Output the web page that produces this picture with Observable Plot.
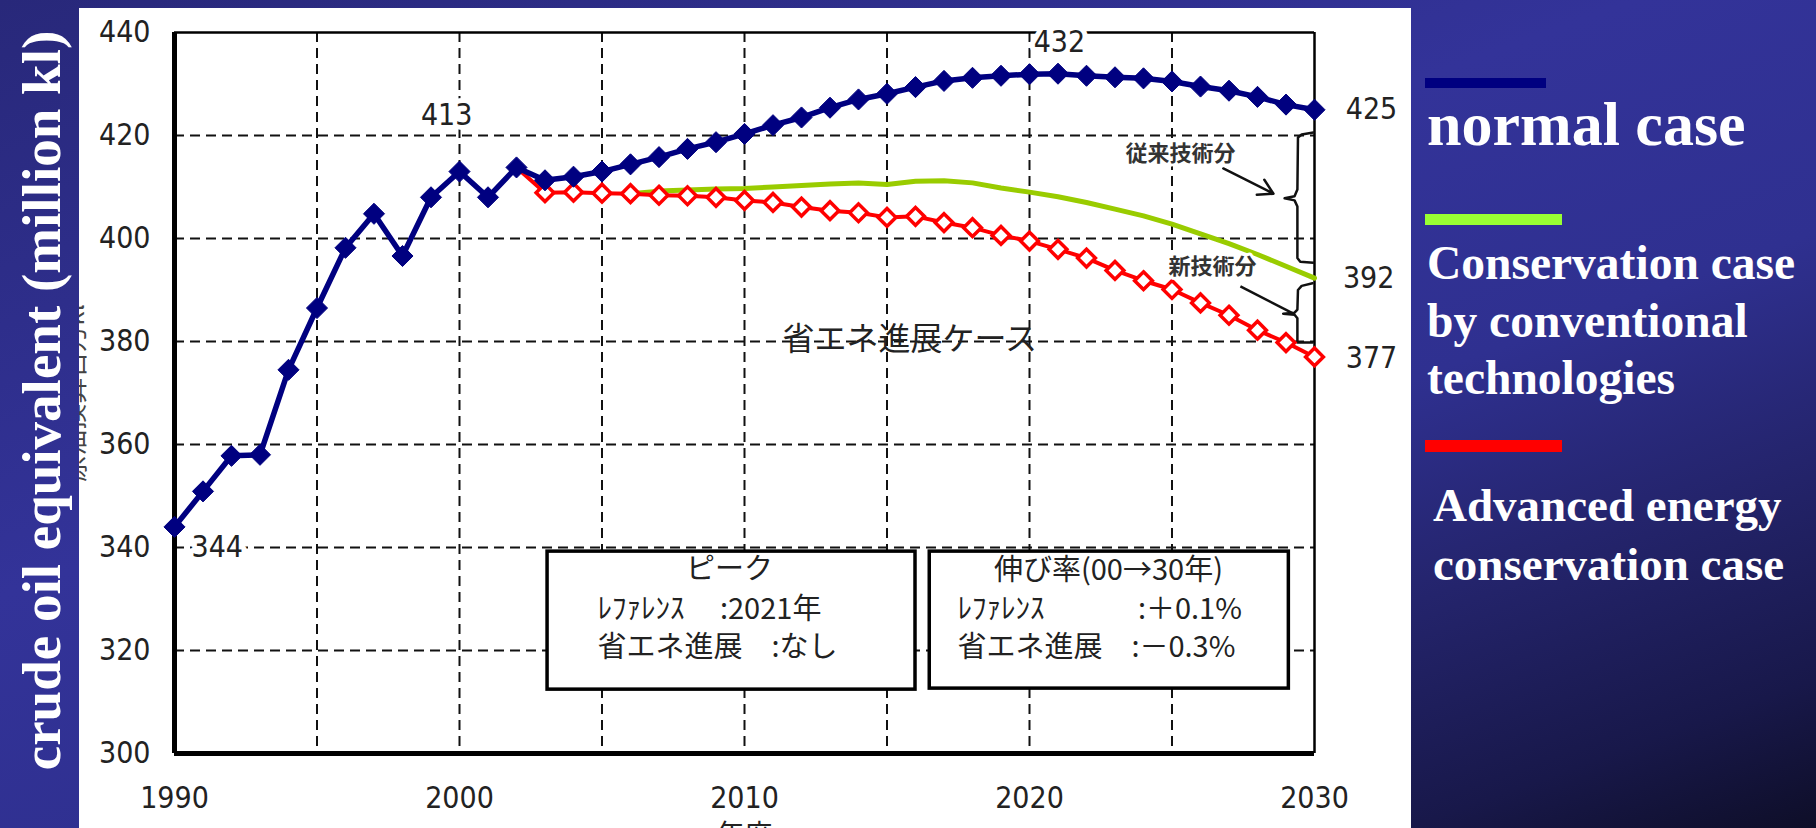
<!DOCTYPE html>
<html><head><meta charset="utf-8">
<script src="https://cdn.jsdelivr.net/npm/d3@7"></script>
<script src="https://cdn.jsdelivr.net/npm/@observablehq/plot@0.6"></script>
<style>
html,body{margin:0;padding:0;}
body{width:1816px;height:828px;overflow:hidden;position:relative;
  background:linear-gradient(160deg,#28287a 0%,#333399 40%,#2f3090 60%,#24246c 75%,#18184a 90%,#0e0e28 100%);}
#chart{position:absolute;left:79px;top:8px;width:1332px;height:820px;overflow:hidden;background:white;}
.serif{font-family:"Liberation Serif","Times New Roman",serif;font-weight:bold;color:white;position:absolute;white-space:nowrap;}
.bar{position:absolute;}
</style></head><body>
<div id="chart"></div>
<div class="serif" style="left:-334px;top:373px;width:750px;height:55px;font-size:55px;line-height:55px;text-align:center;transform:rotate(-90deg);">crude oil equivalent (million kl)</div>
<div class="bar" style="left:1425px;top:78px;width:121px;height:10px;background:#000080"></div>
<div class="serif" style="left:1427px;top:93px;font-size:62px;line-height:62px;">normal case</div>
<div class="bar" style="left:1425px;top:214px;width:137px;height:11px;background:#99ff33"></div>
<div class="serif" style="left:1427px;top:235px;font-size:47.5px;line-height:57.5px;">Conservation case<br>by conventional<br>technologies</div>
<div class="bar" style="left:1425px;top:440px;width:137px;height:12px;background:#ff0000"></div>
<div class="serif" style="left:1433px;top:476px;font-size:47px;line-height:59px;">Advanced energy<br>conservation case</div>
<script>
// ---- data ----
const years = [1990,1991,1992,1993,1994,1995,1996,1997,1998,1999,2000,2001,2002,2003,2004,2005,2006,2007,2008,2009,2010,2011,2012,2013,2014,2015,2016,2017,2018,2019,2020,2021,2022,2023,2024,2025,2026,2027,2028,2029,2030];
const normalCase = [344.0,350.9,357.8,358.0,374.5,386.5,398.2,404.8,396.6,408.0,413.0,408.0,413.8,411.3,412.0,413.0,414.4,415.8,417.4,418.7,420.3,422.0,423.5,425.4,427.0,428.1,429.4,430.6,431.2,431.6,431.9,432.0,431.6,431.3,431.1,430.5,429.5,428.7,427.5,426.0,425.0];
const conservYears = [2006,2007,2008,2009,2010,2011,2012,2013,2014,2015,2016,2017,2018,2019,2020,2021,2022,2023,2024,2025,2026,2027,2028,2029,2030];
const conservCase = [408.7,409.2,409.4,409.6,409.7,410.0,410.3,410.6,410.8,410.5,411.1,411.2,410.8,409.8,409.0,408.1,407.0,405.7,404.4,402.8,400.9,399.0,396.9,394.6,392.3];
const advancedYears = [2002,2003,2004,2005,2006,2007,2008,2009,2010,2011,2012,2013,2014,2015,2016,2017,2018,2019,2020,2021,2022,2023,2024,2025,2026,2027,2028,2029,2030];
const advancedCase = [413.8,408.9,409.0,408.8,408.7,408.4,408.3,408.0,407.4,407.0,406.1,405.4,405.0,404.1,404.3,403.1,402.1,400.6,399.5,397.9,396.2,393.8,391.8,390.1,387.5,385.1,382.2,379.8,377.0];
const xTicks = [1990,2000,2010,2020,2030];
const yTicks = [300,320,340,360,380,400,420,440];
const gridX = [1995,2000,2005,2010,2015,2020,2025];
const gridY = [320,340,360,380,400,420];

// annotation labels
const valueLabels = ["344","413","432","425","392","377"];
const valueLabelX = [1991.5,1999.55,2021.05,2032.0,2031.9,2032.0];
const valueLabelY = [340,423.9,438.0,425,392.3,376.7];
const caseLabel = ["省エネ進展ケース"];
const caseLabelX = [2015.8];
const caseLabelY = [380.4];
const techLabels = ["従来技術分","新技術分"];
const techLabelX = [2025.3,2026.42];
const techLabelY = [416.5,394.4];
// boxes
const boxX1 = [2003.09,2016.5];
const boxX2 = [2016.0,2029.1];
const boxY1 = [312.4,312.6];
const boxY2 = [339.2,339.2];
const boxTitles = ["ピーク","伸び率(00→30年)"];
const boxTitleX = [2009.47,2022.77];
const boxTitleY = [335.6,335.4];
const boxLines = ["ﾚﾌｧﾚﾝｽ　 :2021年","省エネ進展　:なし","ﾚﾌｧﾚﾝｽ　　　 :＋0.1%","省エネ進展　:－0.3%"];
const boxLineX = [2004.84,2004.84,2017.47,2017.47];
const boxLineY = [328.0,320.6,328.0,320.6];
// arrows & braces
const arrowX1 = [2026.8], arrowY1 = [413.6], arrowX2 = [2028.56], arrowY2 = [408.7];
const linkX1 = [2027.4], linkY1 = [390.7], linkX2 = [2029.26], linkY2 = [385.4];
const braceId = ["u","u","u","u","u","u","u","u","u","u","u","l","l","l","l","l","l","l","l","l","l"];
const braceX = [2029.96,2029.55,2029.42,2029.40,2029.3,2028.95,2029.3,2029.40,2029.40,2029.5,2029.96, 2029.93,2029.55,2029.42,2029.40,2029.3,2028.9,2029.3,2029.40,2029.40,2029.93];
const braceY = [420.6,420.2,419.6,409.5,408.2,407.8,407.4,406.2,396.2,395.5,395.3, 391.3,390.8,390.0,386.2,385.6,385.4,385.2,384.5,379.8,379.8];

// ---- tables ----
const normal = years.map((year,i)=>({year, value: normalCase[i]}));
const conserv = conservYears.map((year,i)=>({year, value: conservCase[i]}));
const advanced = advancedYears.map((year,i)=>({year, value: advancedCase[i]}));
const advancedDots = advanced.filter(d=>d.year>=2003);
const idx = a => a.map((_,i)=>i);
const boxes = idx(boxX1).map(i=>({x1:boxX1[i],x2:boxX2[i],y1:boxY1[i],y2:boxY2[i]}));
const braces = idx(braceX).map(i=>({id:braceId[i],x:braceX[i],y:braceY[i]}));

const sans = "'Liberation Sans Narrow','DejaVu Sans Condensed','Liberation Sans',Arial,sans-serif";
const jp = "'Noto Sans CJK JP','Noto Sans',sans-serif";
const dash = {stroke:"#111", strokeWidth:2, strokeDasharray:"10,6"};

const chart = Plot.plot({
  width:1332, height:820,
  marginLeft:95, marginRight:97, marginTop:24, marginBottom:75,
  style:{background:"white", fontFamily:sans, fontSize:"30px", color:"#222"},
  x:{domain:[1990,2030]},
  y:{domain:[300,440]},
  marks:[
    Plot.ruleX(gridX, dash),
    Plot.ruleY(gridY, dash),
    Plot.ruleX([1990], {stroke:"#000", strokeWidth:5}),
    Plot.ruleY([300], {stroke:"#000", strokeWidth:5}),
    Plot.ruleX([2030], {stroke:"#000", strokeWidth:2.5}),
    Plot.ruleY([440], {stroke:"#000", strokeWidth:2.5}),
    Plot.rect(boxes, {x1:"x1", x2:"x2", y1:"y1", y2:"y2", fill:"white", stroke:"#000", strokeWidth:3.5}),
    Plot.text(boxTitles, {x:(d,i)=>boxTitleX[i], y:(d,i)=>boxTitleY[i], text:d=>d, fontFamily:jp, fontSize:29, fill:"#222"}),
    Plot.text(boxLines, {x:(d,i)=>boxLineX[i], y:(d,i)=>boxLineY[i], text:d=>d, textAnchor:"start", fontFamily:jp, fontSize:29, fill:"#222"}),
    Plot.text(valueLabels, {x:(d,i)=>valueLabelX[i], y:(d,i)=>valueLabelY[i], text:d=>d, fontSize:30, fill:"#222", stroke:"white", strokeWidth:10, paintOrder:"stroke"}),
    Plot.text(caseLabel, {x:(d,i)=>caseLabelX[i], y:(d,i)=>caseLabelY[i], text:d=>d, fontFamily:jp, fontSize:32, fill:"#222"}),
    Plot.text([techLabels[0]], {x:[techLabelX[0]], y:[techLabelY[0]], text:d=>d, fontFamily:jp, fontSize:22, fontWeight:"bold", fill:"#333", stroke:"white", strokeWidth:6, paintOrder:"stroke"}),
    Plot.arrow(arrowX1, {x1:(d,i)=>arrowX1[i], y1:(d,i)=>arrowY1[i], x2:(d,i)=>arrowX2[i], y2:(d,i)=>arrowY2[i], stroke:"#111", strokeWidth:2.5, headLength:10}),
    Plot.link(linkX1, {x1:(d,i)=>linkX1[i], y1:(d,i)=>linkY1[i], x2:(d,i)=>linkX2[i], y2:(d,i)=>linkY2[i], stroke:"#111", strokeWidth:2.5}),
    Plot.line(braces, {x:"x", y:"y", z:"id", stroke:"#111", strokeWidth:2.5}),
    Plot.line(conserv, {x:"year", y:"value", stroke:"#99cc00", strokeWidth:5}),
    Plot.line(advanced, {x:"year", y:"value", stroke:"#ff0000", strokeWidth:4}),
    Plot.dot(advancedDots, {x:"year", y:"value", symbol:"diamond2", r:8, fill:"white", stroke:"#ff0000", strokeWidth:3.5}),
    Plot.line(normal, {x:"year", y:"value", stroke:"#000080", strokeWidth:5.5}),
    Plot.dot(normal, {x:"year", y:"value", symbol:"diamond2", r:9.5, fill:"#000080", stroke:"#000080", strokeWidth:1}),
    Plot.text([techLabels[1]], {x:[techLabelX[1]], y:[techLabelY[1]], text:d=>d, fontFamily:jp, fontSize:22, fontWeight:"bold", fill:"#333", stroke:"white", strokeWidth:6, paintOrder:"stroke"}),
    Plot.axisX({ticks:xTicks, tickSize:0, tickPadding:33, tickFormat:d=>String(d), label:null}),
    Plot.axisY({ticks:yTicks, tickSize:0, tickPadding:24, label:null}),
    Plot.text(["原油換算百万kl"], {frameAnchor:"left", dx:-99, rotate:-90, textAnchor:"middle", fontFamily:jp, fontSize:26, fill:"#444"}),
    Plot.text(["年度"], {x:[2010], frameAnchor:"bottom", dy:72, lineAnchor:"top", fontFamily:jp, fontSize:28, fill:"#222"})
  ]
});
document.getElementById("chart").appendChild(chart);
</script>
</body></html>
